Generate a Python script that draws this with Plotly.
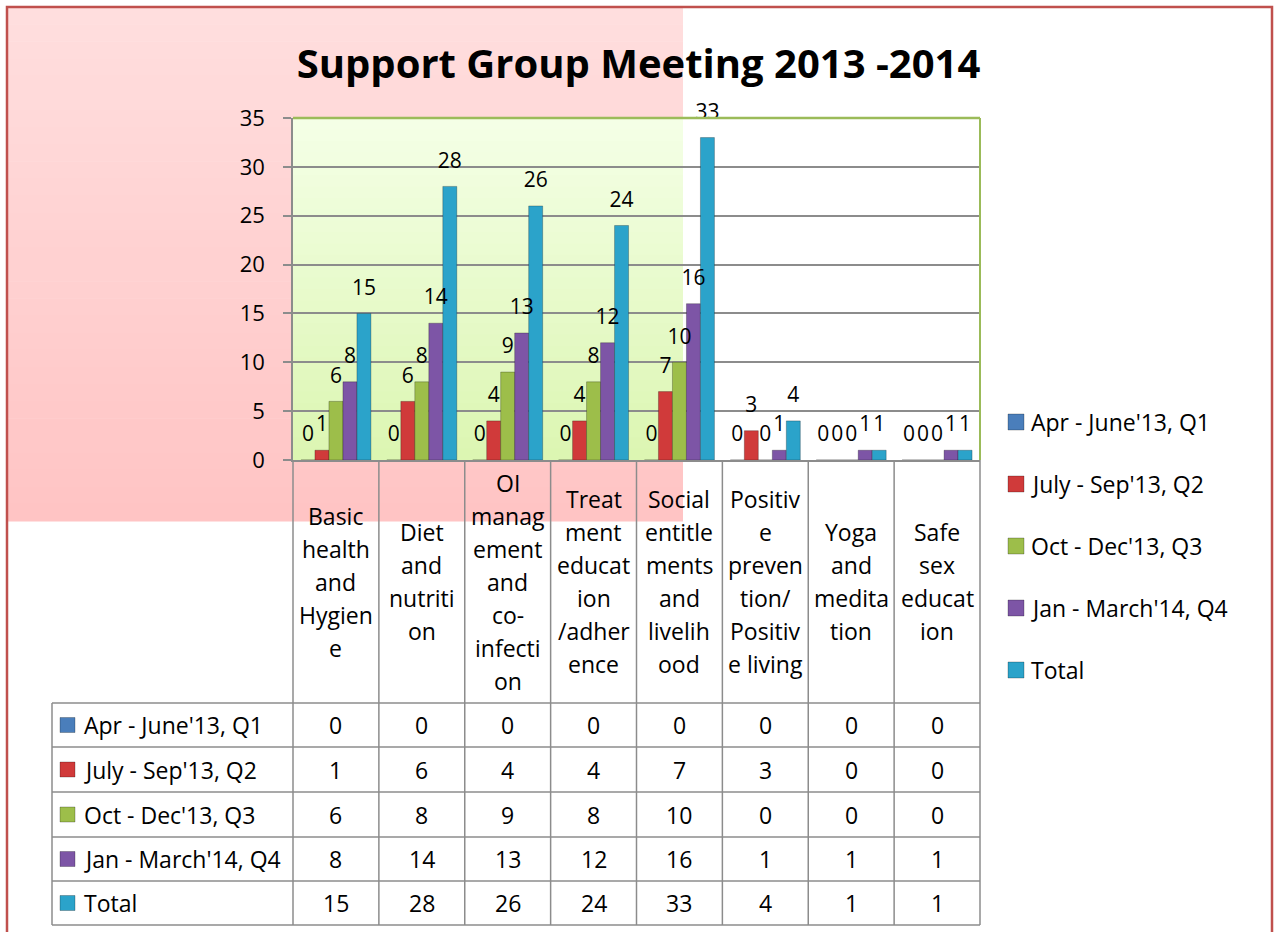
import plotly.graph_objects as go

# ---------------- data ----------------
categories = [
    "Basic health and Hygiene",
    "Diet and nutrition",
    "OI management and co-infection",
    "Treatment education /adherence",
    "Social entitlements and livelihood",
    "Positive prevention/ Positive living",
    "Yoga and meditation",
    "Safe sex education",
]
# category labels as wrapped in the data table header
category_lines = [
    ["Basic", "health", "and", "Hygien", "e"],
    ["Diet", "and", "nutriti", "on"],
    ["OI", "manag", "ement", "and", "co-", "infecti", "on"],
    ["Treat", "ment", "educat", "ion", "/adher", "ence"],
    ["Social", "entitle", "ments", "and", "livelih", "ood"],
    ["Positiv", "e", "preven", "tion/", "Positiv", "e living"],
    ["Yoga", "and", "medita", "tion"],
    ["Safe", "sex", "educat", "ion"],
]
series_names = ["Apr - June'13, Q1", "July - Sep'13, Q2", "Oct - Dec'13, Q3",
                "Jan - March'14, Q4", "Total"]
q1 = [0, 0, 0, 0, 0, 0, 0, 0]
q2 = [1, 6, 4, 4, 7, 3, 0, 0]
q3 = [6, 8, 9, 8, 10, 0, 0, 0]
q4 = [8, 14, 13, 12, 16, 1, 1, 1]
total = [15, 28, 26, 24, 33, 4, 1, 1]
series_values = [q1, q2, q3, q4, total]
y_ticks = [0, 5, 10, 15, 20, 25, 30, 35]

# ---------------- style ----------------
colors = ["#4A7EBB", "#D03A3A", "#9DBE4A", "#7D55A6", "#2BA3CA"]
FONT = "'Open Sans', Lato, sans-serif"
GRID = "#8C8C8C"
FIG_W, FIG_H = 1277, 932
ML, MR, MT, MB = 293, 297, 118, 472
PW, PH = FIG_W - ML - MR, FIG_H - MT - MB
n_cat = len(categories)
n_ser = len(series_values)
bargap = 0.185
bar_w = (1 - bargap) / n_ser
TXT = 23


def px_x(px):
    return (px - ML) / PW


def px_y(py):
    return (FIG_H - MB - py) / PH


def cat_paper(c):
    # maps category-axis coordinate (range -0.5 .. n-0.5) to paper x
    return (c + 0.5) / n_cat


fig = go.Figure()

# bars
for name, vals, col in zip(series_names, series_values, colors):
    fig.add_trace(go.Bar(
        x=list(range(n_cat)), y=vals, name=name,
        marker=dict(color=col, line=dict(color="rgba(0,0,0,0.25)", width=1)),
        showlegend=False, hoverinfo="x+y+name",
    ))

# data labels above bars
for j, (name, vals) in enumerate(zip(series_names, series_values)):
    xs = [i + (j - (n_ser - 1) / 2) * bar_w for i in range(n_cat)]
    fig.add_trace(go.Scatter(
        x=xs, y=vals, mode="markers+text", text=[str(v) for v in vals],
        textposition="top center",
        textfont=dict(family=FONT, size=21, color="black"),
        marker=dict(size=20, color="rgba(0,0,0,0)"),
        cliponaxis=False, showlegend=False, hoverinfo="skip",
    ))

shapes = []
annotations = []

# pink background panel (vertical gradient made of stripes)
pink_top, pink_bot = (255, 222, 222), (255, 196, 196)
N = 30
y_a, y_b = 7, 521
for k in range(N):
    t = k / (N - 1)
    c = tuple(int(round(pink_top[m] + (pink_bot[m] - pink_top[m]) * t)) for m in range(3))
    ya = y_a + (y_b - y_a) * k / N
    yb = y_a + (y_b - y_a) * (k + 1) / N + 0.6
    shapes.append(dict(type="rect", xref="paper", yref="paper", layer="below",
                       x0=px_x(7), x1=px_x(683), y0=px_y(yb), y1=px_y(ya),
                       line=dict(width=0), fillcolor="rgb(%d,%d,%d)" % c))
# green plot-area gradient on the left part
g_top, g_bot = (244, 255, 230), (220, 246, 178)
for k in range(N):
    t = k / (N - 1)
    c = tuple(int(round(g_top[m] + (g_bot[m] - g_top[m]) * t)) for m in range(3))
    y0p = 1 - k / N
    y1p = 1 - (k + 1) / N
    shapes.append(dict(type="rect", xref="paper", yref="paper", layer="below",
                       x0=0, x1=px_x(683), y0=y1p - 0.002, y1=y0p,
                       line=dict(width=0), fillcolor="rgb(%d,%d,%d)" % c))

# outer figure border
shapes.append(dict(type="rect", xref="paper", yref="paper", layer="above",
                   x0=px_x(7), x1=px_x(1272), y0=px_y(950), y1=px_y(7),
                   line=dict(color="#C0504D", width=2.5), fillcolor="rgba(0,0,0,0)"))

# plot-area top and right borders (green)
shapes.append(dict(type="line", xref="paper", yref="paper", x0=0, x1=1, y0=1, y1=1,
                   line=dict(color="#9BBB59", width=2.5)))
shapes.append(dict(type="line", xref="paper", yref="paper", x0=1, x1=1, y0=0, y1=1,
                   line=dict(color="#9BBB59", width=2)))

# ---------------- data table ----------------
row_edges_px = [703, 747, 792, 837, 881, 925]
header_top = px_y(460)
left_col = px_x(52)
tbl_line = dict(color=GRID, width=1.5)

# header vertical separators
for i in range(n_cat + 1):
    xp = cat_paper(i - 0.5)
    shapes.append(dict(type="line", xref="paper", yref="paper", x0=xp, x1=xp,
                       y0=px_y(row_edges_px[0]), y1=header_top, line=tbl_line))
# data grid
for e in row_edges_px:
    shapes.append(dict(type="line", xref="paper", yref="paper", x0=left_col, x1=1,
                       y0=px_y(e), y1=px_y(e), line=tbl_line))
for xp in [left_col] + [cat_paper(i - 0.5) for i in range(n_cat + 1)]:
    shapes.append(dict(type="line", xref="paper", yref="paper", x0=xp, x1=xp,
                       y0=px_y(row_edges_px[-1]), y1=px_y(row_edges_px[0]), line=tbl_line))

# header category labels
header_mid = (460 + row_edges_px[0]) / 2
line_step = 33
for i, lines in enumerate(category_lines):
    n = len(lines)
    for k, ln in enumerate(lines):
        yc = header_mid + (k - (n - 1) / 2) * line_step
        annotations.append(dict(xref="paper", yref="paper", x=cat_paper(i), y=px_y(yc),
                                text=ln, showarrow=False, xanchor="center", yanchor="middle",
                                font=dict(family=FONT, size=TXT, color="black")))

# table rows
for r, (name, vals, col) in enumerate(zip(series_names, series_values, colors)):
    yc = (row_edges_px[r] + row_edges_px[r + 1]) / 2
    shapes.append(dict(type="rect", xref="paper", yref="paper",
                       x0=px_x(60), x1=px_x(75), y0=px_y(yc + 7.5), y1=px_y(yc - 7.5),
                       line=dict(color="rgba(0,0,0,0.25)", width=1), fillcolor=col))
    annotations.append(dict(xref="paper", yref="paper", x=px_x(82), y=px_y(yc),
                            text=name, showarrow=False, xanchor="left", yanchor="middle",
                            font=dict(family=FONT, size=TXT, color="black")))
    for i, v in enumerate(vals):
        annotations.append(dict(xref="paper", yref="paper", x=cat_paper(i), y=px_y(yc),
                                text=str(v), showarrow=False, xanchor="center", yanchor="middle",
                                font=dict(family=FONT, size=TXT, color="black")))

# legend (right side)
leg_y0, leg_step = 422, 62
for r, (name, col) in enumerate(zip(series_names, colors)):
    yc = leg_y0 + r * leg_step
    shapes.append(dict(type="rect", xref="paper", yref="paper",
                       x0=px_x(1008), x1=px_x(1024), y0=px_y(yc + 8), y1=px_y(yc - 8),
                       line=dict(color="rgba(0,0,0,0.25)", width=1), fillcolor=col))
    annotations.append(dict(xref="paper", yref="paper", x=px_x(1029), y=px_y(yc),
                            text=name, showarrow=False, xanchor="left", yanchor="middle",
                            font=dict(family=FONT, size=TXT, color="black")))

fig.update_layout(
    width=FIG_W, height=FIG_H,
    margin=dict(l=ML, r=MR, t=MT, b=MB, pad=0),
    paper_bgcolor="white", plot_bgcolor="rgba(0,0,0,0)",
    barmode="group", bargap=bargap, bargroupgap=0,
    title=dict(text="<b>Support Group Meeting 2013 -2014</b>", x=0.5, xanchor="center",
               y=1 - 64 / FIG_H, yanchor="middle",
               font=dict(family=FONT, size=40, color="black")),
    font=dict(family=FONT, color="black"),
    showlegend=False,
    xaxis=dict(range=[-0.5, n_cat - 0.5], showticklabels=False, ticks="",
               showgrid=False, zeroline=False, showline=True,
               linecolor=GRID, linewidth=1.5, fixedrange=True),
    yaxis=dict(range=[0, 35], tickvals=y_ticks, ticks="outside", ticklen=8,
               tickcolor=GRID, tickwidth=1.5, showgrid=True, gridcolor=GRID,
               gridwidth=1.5, zeroline=False, showline=True, linecolor=GRID,
               linewidth=1.5, tickfont=dict(family=FONT, size=22, color="black"),
               ticklabelstandoff=14, fixedrange=True),
    shapes=shapes, annotations=annotations,
)

fig.write_html("out.html", config={"displayModeBar": False},
               post_script="document.body.style.margin='0px';")
